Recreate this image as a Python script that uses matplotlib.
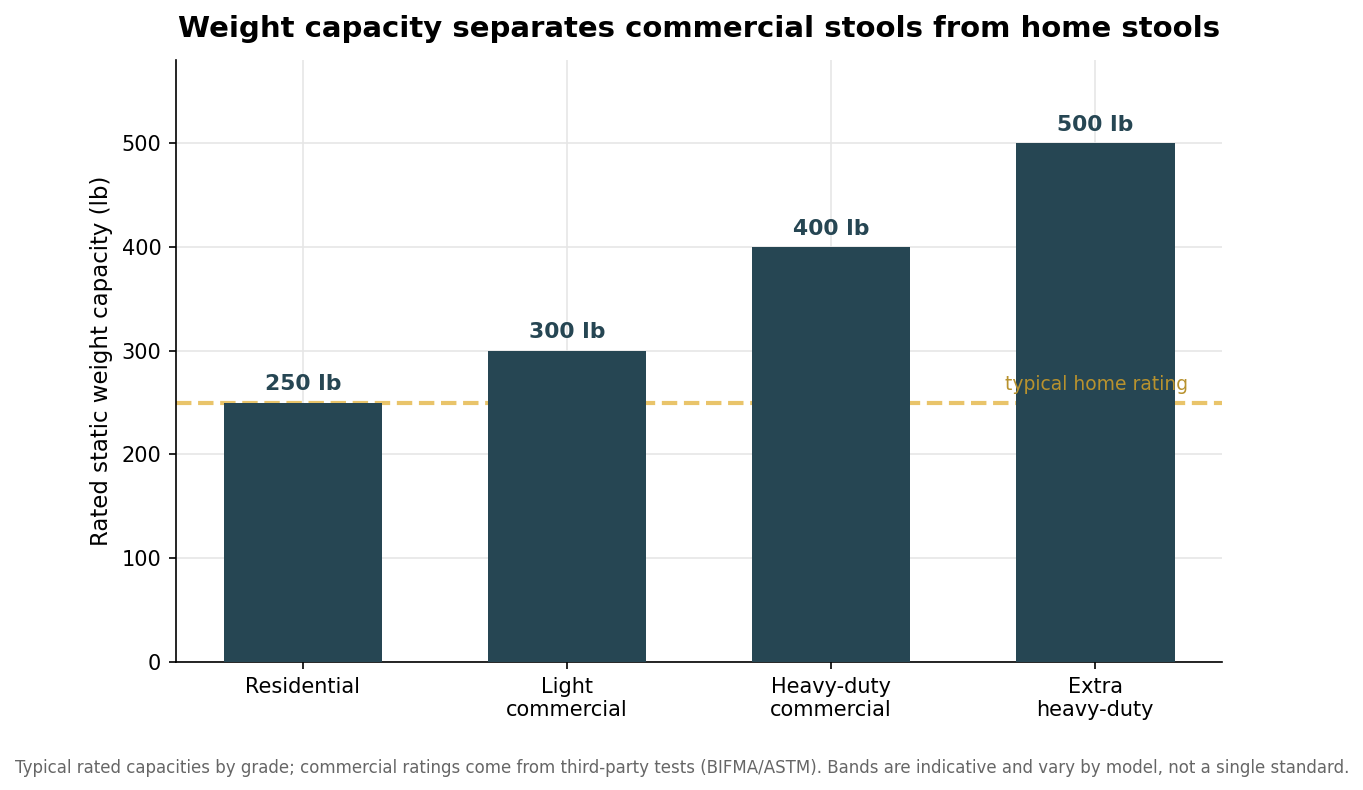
import numpy as np
import matplotlib.pyplot as plt

grades = ["Residential", "Light\ncommercial", "Heavy-duty\ncommercial", "Extra\nheavy-duty"]
capacity_lb = [250, 300, 400, 500]
home_rating = 250

bar_color = "#264653"

fig, ax = plt.subplots(figsize=(9.093, 5.267), dpi=150)
x = np.arange(len(grades))
ax.bar(x, capacity_lb, width=0.6, color=bar_color, zorder=3)
ax.axhline(home_rating, color="#e9c46a", linestyle="--", linewidth=2, zorder=2)
ax.text(x[-1] + 0.35, home_rating + 8, "typical home rating", color="#b8922e",
        ha="right", va="bottom", fontsize=9, zorder=4)

for xi, v in zip(x, capacity_lb):
    ax.text(xi, v + 8, "{} lb".format(v), ha="center", va="bottom",
            fontsize=10.5, fontweight="bold", color=bar_color, zorder=4)

ax.set_xticks(x)
ax.set_xticklabels(grades, fontsize=10)
ax.tick_params(axis="y", labelsize=10)
ax.set_ylim(0, 580)
ax.set_ylabel("Rated static weight capacity (lb)", fontsize=11)
ax.set_title("Weight capacity separates commercial stools from home stools",
             fontsize=14, fontweight="bold", pad=11)
ax.grid(True, color="#e6e6e6", linewidth=0.8, zorder=0)
ax.set_axisbelow(True)
ax.spines["top"].set_visible(False)
ax.spines["right"].set_visible(False)

fig.text(0.5, 0.021, "Typical rated capacities by grade; commercial ratings come from third-party tests "
         "(BIFMA/ASTM). Bands are indicative and vary by model, not a single standard.",
         ha="center", fontsize=8, color="#666666")

fig.subplots_adjust(left=0.129, right=0.896, top=0.924, bottom=0.162)
fig.savefig("out.png", dpi=150)
